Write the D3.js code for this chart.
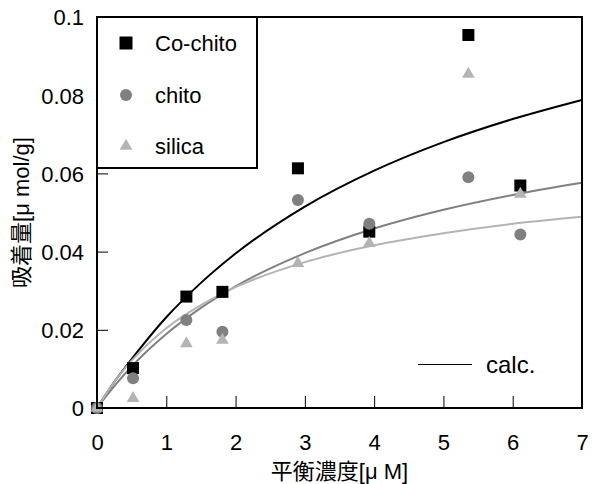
<!DOCTYPE html>
<html>
<head>
<meta charset="utf-8">
<script src="https://cdn.jsdelivr.net/npm/d3@7"></script>
<style>
  body { margin: 0; background: #fff; }
  svg { display: block; }
  text { font-family: "Liberation Sans", Arial, "Noto Sans CJK JP", sans-serif; fill: #000; }
</style>
</head>
<body>
<div id="chart"></div>
<script>
// measured points
const concCo = [0, 0.52, 1.29, 1.81, 2.9, 3.93, 5.36, 6.11];
const qCo = [0, 0.0102, 0.0285, 0.0297, 0.0613, 0.0451, 0.0954, 0.0569];
const concChito = [0, 0.52, 1.29, 1.81, 2.9, 3.93, 5.36, 6.11];
const qChito = [0, 0.0076, 0.0225, 0.0195, 0.0532, 0.0471, 0.059, 0.0444];
const concSilica = [0, 0.52, 1.29, 1.81, 2.9, 3.93, 5.36, 6.11];
const qSilica = [0, 0.0025, 0.0165, 0.0174, 0.037, 0.0421, 0.0854, 0.0547];

// calc. curves
const calcX = [0, 0.25, 0.5, 1, 1.5, 2, 3, 4, 5, 6, 7];
const calcCo = [0, 0.0067, 0.0125, 0.0232, 0.032, 0.0395, 0.0515, 0.0607, 0.068, 0.0739, 0.0788];
const calcChito = [0, 0.0056, 0.0106, 0.0189, 0.0256, 0.0311, 0.0396, 0.0459, 0.0507, 0.0545, 0.0576];
const calcSilica = [0, 0.0067, 0.0121, 0.0204, 0.0263, 0.0309, 0.0373, 0.0416, 0.0447, 0.0471, 0.0489];

const xTicks = [0, 1, 2, 3, 4, 5, 6, 7];
const yTicks = [0, 0.02, 0.04, 0.06, 0.08, 0.1];
const yTickLabels = ["0", "0.02", "0.04", "0.06", "0.08", "0.1"];
const legendNames = ["Co-chito", "chito", "silica"];

const width = 596, height = 484;
const margin = { top: 17, right: 14, bottom: 76, left: 97 };
const iw = width - margin.left - margin.right;
const ih = height - margin.top - margin.bottom;

const x = d3.scaleLinear().domain([0, 7]).range([0, iw]);
const y = d3.scaleLinear().domain([0, 0.1]).range([ih, 0]);

const svg = d3.select("#chart").append("svg")
  .attr("width", width).attr("height", height);
const g = svg.append("g").attr("transform", `translate(${margin.left},${margin.top})`);

// curves
const line = d3.line().x(d => x(d[0])).y(d => y(d[1])).curve(d3.curveMonotoneX);
const curves = [
  { vals: calcCo, color: "#000" },
  { vals: calcChito, color: "#808080" },
  { vals: calcSilica, color: "#b4b4b4" },
];
curves.forEach(c => {
  g.append("path")
    .attr("d", line(calcX.map((v, i) => [v, c.vals[i]])))
    .attr("fill", "none")
    .attr("stroke", c.color)
    .attr("stroke-width", 2);
});

// markers
const sq = 12;
g.selectAll(".sq").data(concCo.map((v, i) => [v, qCo[i]])).join("rect")
  .attr("x", d => x(d[0]) - sq / 2).attr("y", d => y(d[1]) - sq / 2)
  .attr("width", sq).attr("height", sq).attr("fill", "#000");
g.selectAll(".ci").data(concChito.map((v, i) => [v, qChito[i]])).join("circle")
  .attr("cx", d => x(d[0])).attr("cy", d => y(d[1])).attr("r", 6).attr("fill", "#808080");
const tri = d3.symbol().type(d3.symbolTriangle).size(70);
g.selectAll(".tr").data(concSilica.map((v, i) => [v, qSilica[i]])).join("path")
  .attr("d", tri)
  .attr("transform", d => `translate(${x(d[0])},${y(d[1])})`)
  .attr("fill", "#b4b4b4");

// axes
const xAxis = g.append("g").attr("transform", `translate(0,${ih})`)
  .call(d3.axisBottom(x).tickValues(xTicks).tickFormat(d3.format("d"))
    .tickSizeInner(-12).tickSizeOuter(0).tickPadding(26));
const yAxis = g.append("g")
  .call(d3.axisLeft(y).tickValues(yTicks).tickFormat((d, i) => yTickLabels[i])
    .tickSizeInner(-11).tickSizeOuter(0).tickPadding(13));
[xAxis, yAxis].forEach(a => {
  a.select(".domain").remove();
  a.selectAll("line").attr("stroke", "#000").attr("stroke-width", 1);
  a.selectAll("text").style("font-size", "22px");
});
yAxis.selectAll("text").attr("dy", "0.36em");
xAxis.selectAll("text").attr("dy", "0.71em");

// frame
g.append("rect").attr("width", iw).attr("height", ih)
  .attr("fill", "none").attr("stroke", "#000").attr("stroke-width", 2);

// legend box
const lg = g.append("g");
lg.append("rect").attr("x", 0).attr("y", 0).attr("width", 160).attr("height", 151)
  .attr("fill", "#fff").attr("stroke", "#000").attr("stroke-width", 2);
const rowY = [26, 78, 129];
lg.append("rect").attr("x", 29 - 6.5).attr("y", rowY[0] - 6.5).attr("width", 13).attr("height", 13).attr("fill", "#000");
lg.append("circle").attr("cx", 29).attr("cy", rowY[1]).attr("r", 6).attr("fill", "#808080");
lg.append("path").attr("d", tri).attr("transform", `translate(29,${rowY[2]})`).attr("fill", "#b4b4b4");
lg.selectAll("text").data(legendNames).join("text")
  .attr("x", 58).attr("y", (d, i) => rowY[i] + 8)
  .style("font-size", "22px").text(d => d);

// calc. legend
g.append("line").attr("x1", 321).attr("x2", 375).attr("y1", 347.5).attr("y2", 347.5)
  .attr("stroke", "#000").attr("stroke-width", 1);
g.append("text").attr("x", 389).attr("y", 356).style("font-size", "24px").text("calc.");

// axis titles
g.append("text").attr("x", iw / 2).attr("y", ih + 71).attr("text-anchor", "middle")
  .style("font-size", "22px").text("平衡濃度[μ M]");
g.append("text").attr("transform", `translate(-68,${ih / 2}) rotate(-90)`)
  .attr("text-anchor", "middle").style("font-size", "22px").text("吸着量[μ mol/g]");
</script>
</body>
</html>
